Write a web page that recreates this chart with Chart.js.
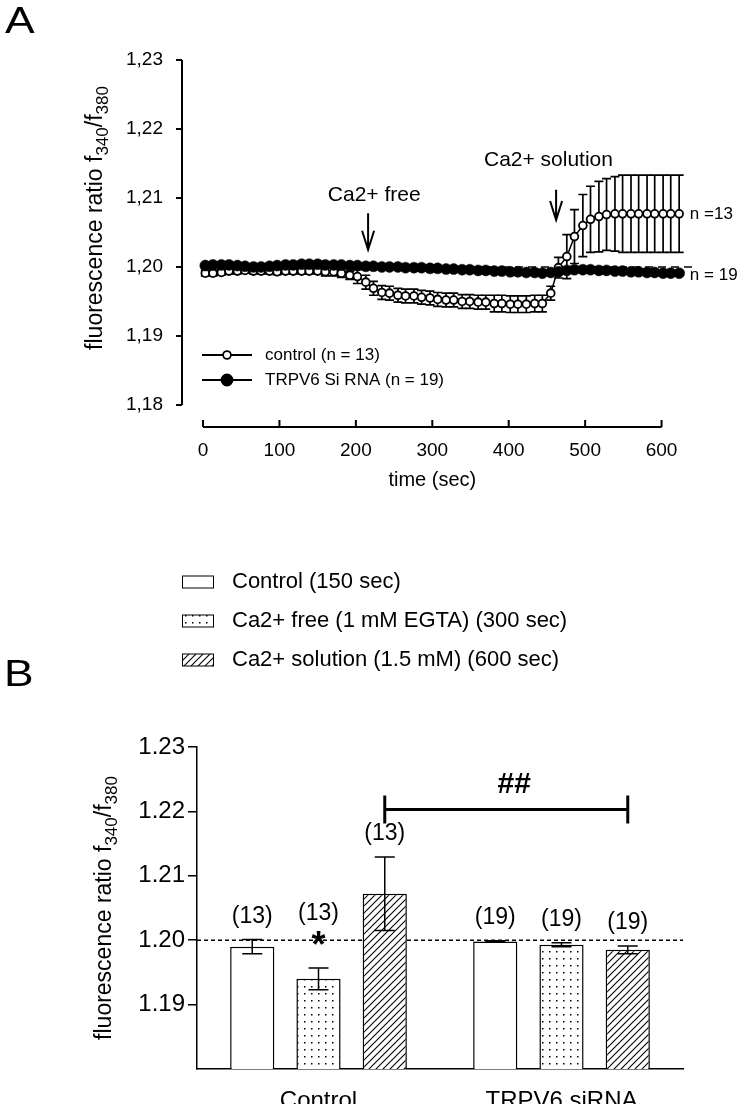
<!DOCTYPE html>
<html>
<head>
<meta charset="utf-8">
<script src="https://cdn.jsdelivr.net/npm/chart.js@4.4.1/dist/chart.umd.min.js"></script>
<style>
  html, body { margin: 0; padding: 0; background: #fff; }
  #wrap { position: relative; width: 748px; height: 1104px; }
  .box { position: absolute; left: 0; width: 748px; }
</style>
</head>
<body>
<div id="wrap">
  <div class="box" style="top:0;height:500px"><canvas id="chartA"></canvas></div>
  <div class="box" style="top:500px;height:604px"><canvas id="chartB"></canvas></div>
</div>
<script>
const FONT = '"Liberation Sans", Arial, Helvetica, sans-serif';

// ---- panel A: time course (one point per frame) ----
const timeA = [3, 13, 24, 34, 45, 55, 66, 76, 87, 97, 108, 118, 129, 139, 150, 160, 171, 181, 192, 202,
  213, 223, 234, 244, 255, 265, 276, 286, 297, 307, 318, 328, 339, 349, 360, 370, 381, 391, 402, 412,
  423, 434, 444, 455, 465, 476, 486, 497, 507, 518, 528, 539, 549, 560, 570, 581, 591, 602, 612, 623];
const controlA = [1.1991, 1.1991, 1.1992, 1.1994, 1.1994, 1.1995, 1.1994, 1.1994, 1.1994, 1.1993,
  1.1994, 1.1994, 1.1994, 1.1994, 1.1994, 1.1993, 1.1993, 1.1991, 1.1988, 1.1986,
  1.1978, 1.1969, 1.1963, 1.1962, 1.1959, 1.1958, 1.1958, 1.1956, 1.1955, 1.1953,
  1.1952, 1.1952, 1.1950, 1.1950, 1.1949, 1.1949, 1.1947, 1.1947, 1.1946, 1.1946,
  1.1946, 1.1947, 1.1947, 1.1962, 1.1999, 1.2015, 1.2044, 1.2060, 1.2069, 1.2073,
  1.2076, 1.2077, 1.2077, 1.2077, 1.2077, 1.2077, 1.2077, 1.2077, 1.2077, 1.2077];
const controlSemA = [0.0004, 0.0004, 0.0004, 0.0004, 0.0004, 0.0004, 0.0004, 0.0004, 0.0004, 0.0004,
  0.0004, 0.0004, 0.0004, 0.0004, 0.0004, 0.0006, 0.0006, 0.0006, 0.0006, 0.0010,
  0.0010, 0.0010, 0.0010, 0.0010, 0.0010, 0.0010, 0.0010, 0.0010, 0.0010, 0.0010,
  0.0010, 0.0010, 0.0010, 0.0010, 0.0010, 0.0010, 0.0012, 0.0012, 0.0012, 0.0012,
  0.0012, 0.0012, 0.0012, 0.0010, 0.0015, 0.0032, 0.0039, 0.0045, 0.0048, 0.0051,
  0.0052, 0.0054, 0.0056, 0.0056, 0.0056, 0.0056, 0.0056, 0.0056, 0.0056, 0.0056];
const sirnaA = [1.2002, 1.2003, 1.2003, 1.2003, 1.2002, 1.2001, 1.2000, 1.2000, 1.2001, 1.2002,
  1.2003, 1.2003, 1.2004, 1.2004, 1.2004, 1.2003, 1.2003, 1.2003, 1.2002, 1.2002,
  1.2001, 1.2001, 1.2000, 1.2000, 1.2000, 1.1999, 1.1999, 1.1999, 1.1998, 1.1998,
  1.1997, 1.1997, 1.1996, 1.1996, 1.1995, 1.1995, 1.1994, 1.1994, 1.1993, 1.1993,
  1.1992, 1.1992, 1.1991, 1.1992, 1.1993, 1.1995, 1.1996, 1.1996, 1.1996, 1.1995,
  1.1995, 1.1994, 1.1994, 1.1993, 1.1993, 1.1992, 1.1992, 1.1991, 1.1991, 1.1991];
const sirnaSemA = [0.0003, 0.0003, 0.0003, 0.0003, 0.0003, 0.0003, 0.0003, 0.0003, 0.0003, 0.0003,
  0.0003, 0.0003, 0.0003, 0.0003, 0.0003, 0.0003, 0.0003, 0.0003, 0.0003, 0.0003,
  0.0003, 0.0003, 0.0003, 0.0003, 0.0003, 0.0003, 0.0003, 0.0003, 0.0003, 0.0003,
  0.0003, 0.0003, 0.0003, 0.0003, 0.0003, 0.0003, 0.0003, 0.0003, 0.0003, 0.0003,
  0.0003, 0.0003, 0.0003, 0.0003, 0.0003, 0.0003, 0.0003, 0.0003, 0.0003, 0.0003,
  0.0003, 0.0003, 0.0003, 0.0003, 0.0003, 0.0003, 0.0003, 0.0003, 0.0003, 0.0003];
const xTicksA = [0, 100, 200, 300, 400, 500, 600];
const yTicksA = [1.18, 1.19, 1.20, 1.21, 1.22, 1.23];

// ---- panel B: means at the three time points ----
const groupsB = ['Control', 'TRPV6 siRNA'];
const phasesB = ['Control (150 sec)', 'Ca2+ free (1 mM EGTA) (300 sec)', 'Ca2+ solution (1.5 mM) (600 sec)'];
const ctrl150 = [1.1990, 1.1998];
const free300 = [1.1940, 1.1993];
const sol600 = [1.2072, 1.1985];
const sem150 = [0.0011, 0.0001];
const sem300 = [0.0017, 0.0003];
const sem600 = [0.0057, 0.0006];
const nB = [13, 19];
const yTicksB = [1.19, 1.20, 1.21, 1.22, 1.23];

// draws "fluorescence ratio f340/f380" rotated, baseline at screen x = bx
function drawYTitle(ctx, bx, cy, size) {
  const parts = [['fluorescence ratio f', 0], ['340', 1], ['/f', 0], ['380', 1]];
  const big = size + 'px ' + FONT, small = Math.round(size * 0.72) + 'px ' + FONT;
  ctx.save();
  ctx.translate(bx, cy);
  ctx.rotate(-Math.PI / 2);
  ctx.fillStyle = '#000';
  ctx.textAlign = 'left';
  ctx.textBaseline = 'alphabetic';
  let total = 0;
  parts.forEach(p => { ctx.font = p[1] ? small : big; total += ctx.measureText(p[0]).width; });
  let xx = -total / 2;
  parts.forEach(p => {
    ctx.font = p[1] ? small : big;
    ctx.fillText(p[0], xx, p[1] ? size * 0.28 : 0);
    xx += ctx.measureText(p[0]).width;
  });
  ctx.restore();
}

function panelLetter(ctx, txt, x, y) {
  ctx.save();
  ctx.translate(x, y);
  ctx.scale(1.2, 1);
  ctx.font = '37px ' + FONT;
  ctx.fillStyle = '#000';
  ctx.textAlign = 'left';
  ctx.textBaseline = 'alphabetic';
  ctx.fillText(txt, 0, 0);
  ctx.restore();
}

function arrowDown(ctx, x, yTop, yTip) {
  ctx.beginPath();
  ctx.moveTo(x, yTop); ctx.lineTo(x, yTip);
  ctx.moveTo(x - 6, yTip - 19); ctx.lineTo(x, yTip); ctx.lineTo(x + 6, yTip - 19);
  ctx.stroke();
}

const panelAPlugin = {
  id: 'panelA',
  beforeDatasetsDraw(chart) {
    const { ctx, scales: { x, y } } = chart;
    ctx.save();
    ctx.strokeStyle = '#000';
    ctx.lineWidth = 1.5;
    ctx.setLineDash([8, 5]);
    ctx.beginPath();
    ctx.moveTo(x.getPixelForValue(0), y.getPixelForValue(1.20));
    ctx.lineTo(x.getPixelForValue(640), y.getPixelForValue(1.20));
    ctx.stroke();
    ctx.setLineDash([]);
    // error bars (SEM)
    ctx.lineWidth = 1.7;
    chart.data.datasets.forEach(ds => {
      ds.data.forEach((p, i) => {
        const e = ds.sem[i];
        const px = x.getPixelForValue(p.x);
        const t = y.getPixelForValue(p.y + e), b = y.getPixelForValue(p.y - e);
        ctx.beginPath();
        ctx.moveTo(px, t); ctx.lineTo(px, b);
        ctx.moveTo(px - 4.5, t); ctx.lineTo(px + 4.5, t);
        ctx.moveTo(px - 4.5, b); ctx.lineTo(px + 4.5, b);
        ctx.stroke();
      });
    });
    ctx.restore();
  },
  afterDraw(chart) {
    const { ctx, chartArea, scales: { x, y } } = chart;
    ctx.save();
    ctx.strokeStyle = '#000';
    ctx.fillStyle = '#000';
    ctx.lineWidth = 2;
    // detached axes
    const ax = chartArea.left;
    ctx.beginPath();
    ctx.moveTo(ax, y.getPixelForValue(1.23));
    ctx.lineTo(ax, y.getPixelForValue(1.18));
    yTicksA.forEach(v => { const py = y.getPixelForValue(v); ctx.moveTo(ax - 6, py); ctx.lineTo(ax, py); });
    const by = chartArea.bottom;
    ctx.moveTo(x.getPixelForValue(0), by);
    ctx.lineTo(x.getPixelForValue(600), by);
    xTicksA.forEach(v => { const px = x.getPixelForValue(v); ctx.moveTo(px, by); ctx.lineTo(px, by - 7); });
    ctx.stroke();

    ctx.font = '20px ' + FONT;
    ctx.textAlign = 'center';
    ctx.textBaseline = 'middle';
    ctx.fillText('time (sec)', (x.getPixelForValue(0) + x.getPixelForValue(600)) / 2, 480);

    // stimulus arrows
    ctx.lineWidth = 2;
    ctx.font = '21px ' + FONT;
    ctx.fillText('Ca2+ free', x.getPixelForValue(224), y.getPixelForValue(1.2104));
    arrowDown(ctx, x.getPixelForValue(216), y.getPixelForValue(1.2078), y.getPixelForValue(1.2025));
    ctx.fillText('Ca2+ solution', x.getPixelForValue(452), y.getPixelForValue(1.2155));
    arrowDown(ctx, x.getPixelForValue(462), y.getPixelForValue(1.2112), y.getPixelForValue(1.2068));

    // n labels at the end of the traces
    ctx.font = '17px ' + FONT;
    ctx.textAlign = 'left';
    ctx.fillText('n =13', x.getPixelForValue(637), y.getPixelForValue(controlA[controlA.length - 1]));
    ctx.fillText('n = 19', x.getPixelForValue(637), y.getPixelForValue(sirnaA[sirnaA.length - 1]) + 2);

    // legend
    const rows = [
      { label: 'control (n = 13)', fill: '#fff', r: 3.9, y: 355 },
      { label: 'TRPV6 Si RNA (n = 19)', fill: '#000', r: 5.5, y: 380 }
    ];
    ctx.font = '17px ' + FONT;
    rows.forEach(r => {
      ctx.lineWidth = 2;
      ctx.beginPath(); ctx.moveTo(202, r.y); ctx.lineTo(252, r.y); ctx.stroke();
      ctx.lineWidth = 1.8;
      ctx.beginPath(); ctx.arc(227, r.y, r.r, 0, Math.PI * 2);
      ctx.fillStyle = r.fill; ctx.fill(); ctx.stroke();
      ctx.fillStyle = '#000';
      ctx.fillText(r.label, 265, r.y);
    });

    drawYTitle(ctx, 102, 218, 23);
    panelLetter(ctx, 'A', 5, 33);
    ctx.restore();
  }
};

new Chart(document.getElementById('chartA'), {
  type: 'line',
  data: {
    datasets: [
      {
        label: 'TRPV6 Si RNA (n = 19)',
        data: timeA.map((t, i) => ({ x: t, y: sirnaA[i] })),
        sem: sirnaSemA,
        borderColor: '#000', borderWidth: 1.5,
        pointRadius: 5.5, pointBackgroundColor: '#000', pointBorderColor: '#000', pointBorderWidth: 0.5
      },
      {
        label: 'control (n = 13)',
        data: timeA.map((t, i) => ({ x: t, y: controlA[i] })),
        sem: controlSemA,
        borderColor: '#000', borderWidth: 1.5,
        pointRadius: 3.9, pointBackgroundColor: '#fff', pointBorderColor: '#000', pointBorderWidth: 1.8
      }
    ]
  },
  options: {
    responsive: true,
    maintainAspectRatio: false,
    animation: false,
    layout: { padding: { top: 60, right: 10, left: 0, bottom: 0 } },
    plugins: { legend: { display: false }, tooltip: { enabled: false } },
    scales: {
      x: {
        type: 'linear', min: -27.5, max: 700,
        grid: { display: false, drawTicks: false }, border: { display: false },
        afterBuildTicks: s => { s.ticks = xTicksA.map(v => ({ value: v })); },
        afterFit: s => { s.height = 73; },
        ticks: { padding: 12, maxRotation: 0, color: '#000', font: { family: FONT, size: 19 } }
      },
      y: {
        min: 1.1768, max: 1.23,
        grid: { display: false, drawTicks: false }, border: { display: false },
        afterBuildTicks: s => { s.ticks = yTicksA.map(v => ({ value: v })); },
        afterFit: s => { s.width = 182; },
        ticks: { padding: 19, color: '#000', font: { family: FONT, size: 19 },
          callback: v => v.toFixed(2).replace('.', ',') }
      }
    }
  },
  plugins: [panelAPlugin]
});

// ---- panel B ----
const ctxB = document.getElementById('chartB').getContext('2d');
function makeTile(draw) {
  const c = document.createElement('canvas');
  c.width = 7; c.height = 7;
  const g = c.getContext('2d');
  g.fillStyle = '#fff'; g.fillRect(0, 0, 7, 7);
  draw(g);
  return ctxB.createPattern(c, 'repeat');
}
const dots = makeTile(g => { g.fillStyle = '#000'; g.fillRect(3, 3, 1.5, 1.5); });
const hatch = makeTile(g => {
  g.strokeStyle = '#000'; g.lineWidth = 1.1;
  g.beginPath();
  g.moveTo(0, 7); g.lineTo(7, 0);
  g.moveTo(-1, 1); g.lineTo(1, -1);
  g.moveTo(6, 8); g.lineTo(8, 6);
  g.stroke();
});
const fillsB = ['#fff', dots, hatch];
const valuesB = [ctrl150, free300, sol600];
const semsB = [sem150, sem300, sem600];

const panelBPlugin = {
  id: 'panelB',
  beforeDatasetsDraw(chart) {
    const { ctx, chartArea, scales: { y } } = chart;
    ctx.save();
    ctx.strokeStyle = '#000'; ctx.lineWidth = 1.5;
    ctx.setLineDash([4, 3]);
    ctx.beginPath();
    ctx.moveTo(chartArea.left, y.getPixelForValue(1.20));
    ctx.lineTo(chartArea.right, y.getPixelForValue(1.20));
    ctx.stroke();
    ctx.restore();
  },
  afterDatasetsDraw(chart) {
    const { ctx, scales: { y } } = chart;
    ctx.save();
    ctx.strokeStyle = '#000'; ctx.fillStyle = '#000'; ctx.lineWidth = 1.5;
    ctx.textAlign = 'center'; ctx.textBaseline = 'middle';
    chart.data.datasets.forEach((ds, di) => {
      const meta = chart.getDatasetMeta(di);
      ds.data.forEach((v, i) => {
        const px = meta.data[i].x;
        const e = ds.sem[i];
        const t = y.getPixelForValue(v + e), b = y.getPixelForValue(v - e);
        ctx.beginPath();
        ctx.moveTo(px, t); ctx.lineTo(px, b);
        ctx.moveTo(px - 10, t); ctx.lineTo(px + 10, t);
        ctx.moveTo(px - 10, b); ctx.lineTo(px + 10, b);
        ctx.stroke();
        let ly = t - 23;
        if (di === 1 && i === 0) {
          // significance vs. own baseline
          ctx.font = 'bold 36px ' + FONT;
          const m = ctx.measureText('*');
          const cy = t - 20;
          ctx.textBaseline = 'alphabetic';
          ctx.fillText('*', px, cy - (m.actualBoundingBoxDescent - m.actualBoundingBoxAscent) / 2);
          ctx.textBaseline = 'middle';
          ly = cy - 34;
        }
        ctx.font = '23px ' + FONT;
        ctx.fillText('(' + nB[i] + ')', px, ly);
      });
    });
    // ## bracket between Ca2+ solution bars
    const m2 = chart.getDatasetMeta(2);
    const x1 = m2.data[0].x, x2 = m2.data[1].x, by = y.getPixelForValue(1.2203);
    ctx.lineWidth = 3;
    ctx.beginPath();
    ctx.moveTo(x1, by); ctx.lineTo(x2, by);
    ctx.moveTo(x1, by - 14); ctx.lineTo(x1, by + 14);
    ctx.moveTo(x2, by - 14); ctx.lineTo(x2, by + 14);
    ctx.stroke();
    ctx.font = 'bold 30px ' + FONT;
    ctx.fillText('##', (x1 + x2) / 2 + 8, by - 25);
    ctx.restore();
  },
  afterDraw(chart) {
    const { ctx } = chart;
    ctx.save();
    ctx.strokeStyle = '#000'; ctx.fillStyle = '#000';
    ctx.font = '22px ' + FONT;
    ctx.textAlign = 'left'; ctx.textBaseline = 'middle';
    [82, 121, 160].forEach((ry, k) => {
      ctx.fillStyle = fillsB[k];
      ctx.fillRect(182, ry - 6, 31, 12);
      ctx.lineWidth = 1;
      ctx.strokeRect(182.5, ry - 6, 31, 12);
      ctx.fillStyle = '#000';
      ctx.fillText(phasesB[k], 232, ry);
    });
    drawYTitle(ctx, 111, 408, 23);
    panelLetter(ctx, 'B', 4, 186);
    ctx.restore();
  }
};

new Chart(ctxB, {
  type: 'bar',
  data: {
    labels: groupsB,
    datasets: phasesB.map((p, k) => ({
      label: p,
      data: valuesB[k],
      sem: semsB[k],
      backgroundColor: fillsB[k],
      borderColor: '#000',
      borderWidth: 1.5,
      categoryPercentage: 0.818,
      barPercentage: 0.667
    }))
  },
  options: {
    responsive: true,
    maintainAspectRatio: false,
    animation: false,
    layout: { padding: { top: 247, right: 65, left: 0, bottom: 0 } },
    plugins: { legend: { display: false }, tooltip: { enabled: false } },
    scales: {
      x: {
        grid: { display: false },
        border: { display: true, color: '#000', width: 1.5 },
        afterFit: s => { s.height = 35; },
        ticks: { padding: 10, color: '#000', font: { family: FONT, size: 24 } }
      },
      y: {
        min: 1.18, max: 1.23,
        grid: { display: true, drawOnChartArea: false, drawTicks: true, tickLength: 9, color: '#000', lineWidth: 1.5 },
        border: { display: true, color: '#000', width: 1.5 },
        afterBuildTicks: s => { s.ticks = yTicksB.map(v => ({ value: v })); },
        afterFit: s => { s.width = 197; },
        ticks: { padding: 3, color: '#000', font: { family: FONT, size: 24 },
          callback: v => v.toFixed(2) }
      }
    }
  },
  plugins: [panelBPlugin]
});
</script>
</body>
</html>
